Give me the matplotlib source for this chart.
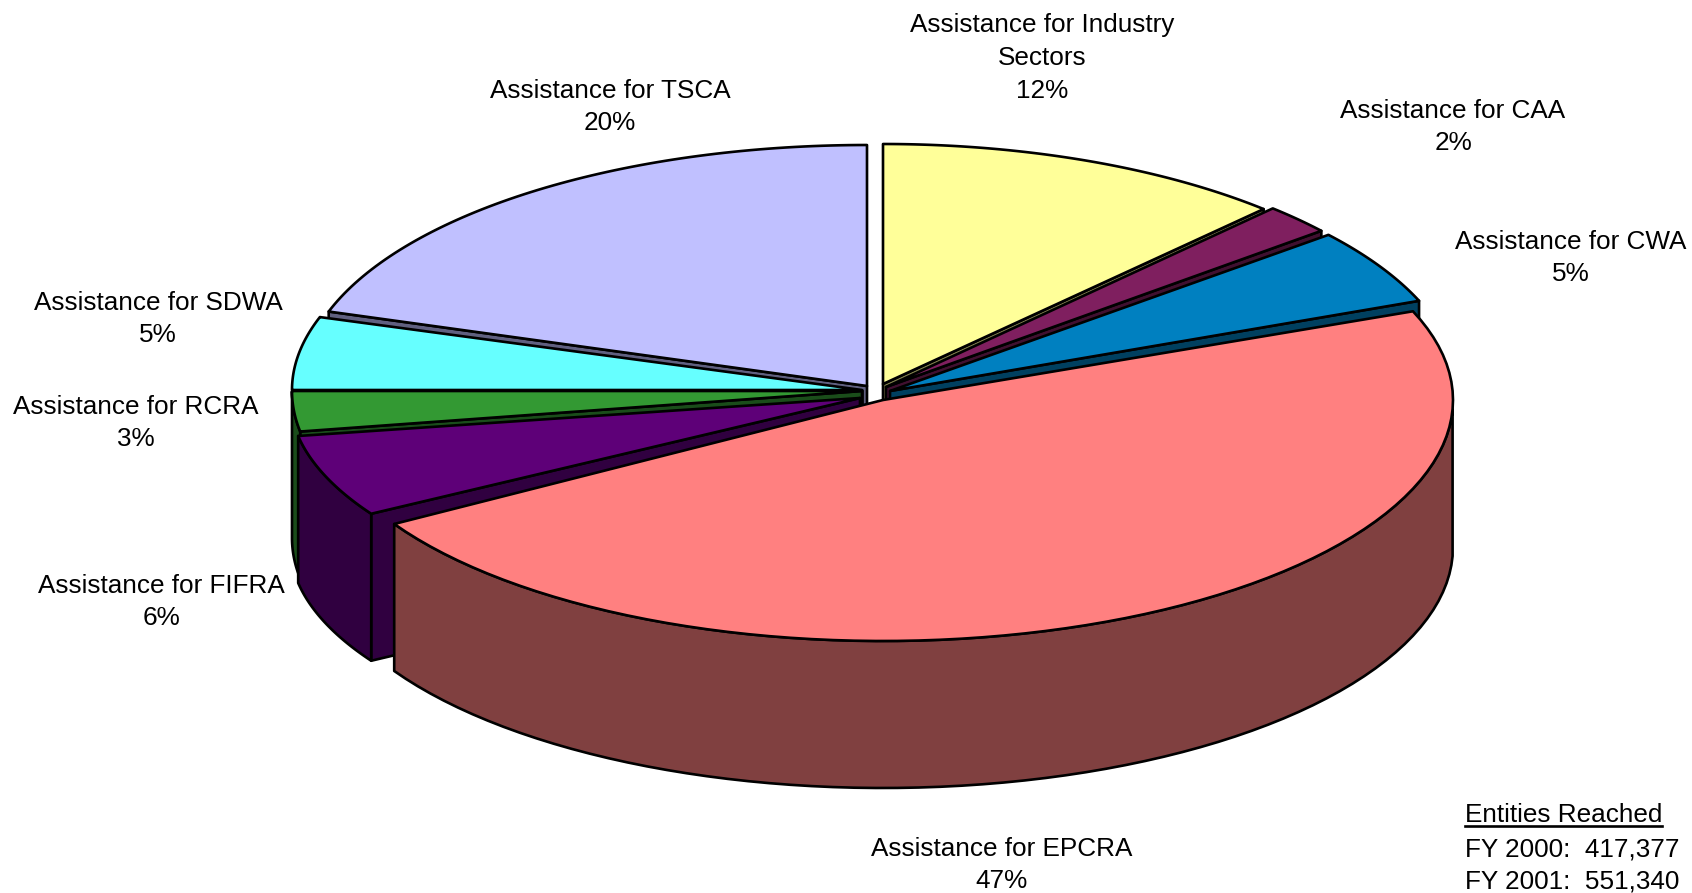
import numpy as np
import matplotlib
matplotlib.use("Agg")
import matplotlib.pyplot as plt
from matplotlib.patches import Polygon

plt.rcParams['font.family'] = ['Liberation Sans', 'DejaVu Sans']

# clockwise from 12 o'clock, labels round these
names = ["Assistance for Industry\nSectors", "Assistance for CAA", "Assistance for CWA",
         "Assistance for EPCRA", "Assistance for FIFRA", "Assistance for RCRA",
         "Assistance for SDWA", "Assistance for TSCA"]
shares = [12.0, 2.0, 5.0, 47.4, 5.9, 2.7, 5.0, 20.0]
entities = ["FY 2000:  417,377", "FY 2001:  551,340"]

top_colors = ["#FFFF99", "#7F1F5F", "#0080C0", "#FF8080", "#5E0078", "#339933", "#66FFFF", "#C0C0FF"]
side_colors = ["#80804D", "#401030", "#004060", "#804040", "#300040", "#1A4D1A", "#338080", "#606080"]

# pixel layout: apex of each exploded slice and its radii
apex_x = [883, 886, 890, 883, 860, 862, 862, 867]
apex_y = [384, 387, 391, 400, 398, 391, 390, 386]
rad_a = [556, 565, 569, 570, 570, 570, 570, 566]
rad_b = [240, 245, 245, 241, 225, 240, 236, 241]
depth = 147
draw_order = [0, 1, 2, 7, 6, 5, 4, 3]

label_x = [1042, 1453, 1571, 1002, 161, 136, 158, 610]
label_y = [58, 127, 258, 865, 602, 423, 319, 107]

fig = plt.figure(figsize=(16.92, 8.93), dpi=100)
ax = fig.add_axes([0, 0, 1, 1])
ax.set_xlim(0, 1692)
ax.set_ylim(893, 0)
ax.axis("off")

edges = np.cumsum([0] + shares) / sum(shares) * 2 * np.pi


def pt(i, t):
    return np.array([apex_x[i] + rad_a[i] * np.sin(t), apex_y[i] - rad_b[i] * np.cos(t)])


def face(points, color, z):
    ax.add_patch(Polygon(points, closed=True, facecolor=color, edgecolor="black",
                         linewidth=1.9, joinstyle="round", zorder=z))


z = 1
for i in draw_order:
    t0, t1 = edges[i], edges[i + 1]
    ts = np.linspace(t0, t1, 80)
    apex = np.array([apex_x[i], apex_y[i]])
    rim = np.array([pt(i, t) for t in ts])
    down = np.array([0, depth])
    mid = pt(i, (t0 + t1) / 2)

    # cut faces, only where the slice lies above the cut on screen
    for t in (t0, t1):
        end = pt(i, t)
        if abs(end[0] - apex[0]) < 1:
            continue
        y_on_cut = apex[1] + (end[1] - apex[1]) * (mid[0] - apex[0]) / (end[0] - apex[0])
        if mid[1] < y_on_cut:
            face([apex, end, end + down, apex + down], side_colors[i], z)
            z += 1

    # outer wall on the front half
    front = ts[np.cos(ts) < 0]
    if len(front) > 1:
        wall = np.array([pt(i, t) for t in front])
        face(np.vstack([wall, (wall + down)[::-1]]), side_colors[i], z)
        z += 1

    face(np.vstack([apex, rim]), top_colors[i], z)
    z += 1

for i in range(len(names)):
    ax.text(label_x[i], label_y[i], "%s\n%d%%" % (names[i], round(shares[i])),
            ha="center", va="center", fontsize=18.8, linespacing=1.47, color="black", zorder=50)

ax.text(1465, 822, "Entities Reached", ha="left", va="baseline", fontsize=18.8, zorder=50)
ax.plot([1465, 1662], [826, 826], color="black", linewidth=1.9, zorder=50)
ax.text(1465, 856, entities[0], ha="left", va="baseline", fontsize=18.8, zorder=50)
ax.text(1465, 889, entities[1], ha="left", va="baseline", fontsize=18.8, zorder=50)

fig.savefig("out.png", dpi=100)
